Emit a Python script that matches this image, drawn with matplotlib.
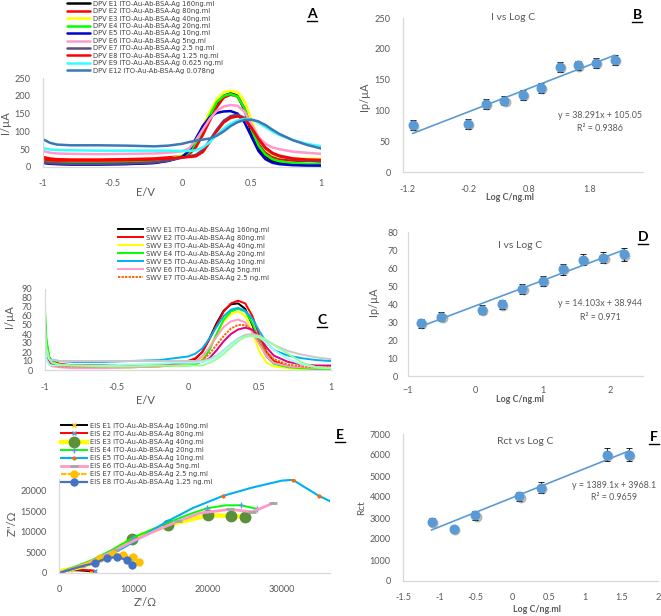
import matplotlib
matplotlib.use("Agg")
import matplotlib.pyplot as plt
from matplotlib.lines import Line2D
import matplotlib.transforms as mtransforms

plt.rcParams['font.family'] = ['Lato', 'DejaVu Sans']

W, H = 661, 616
fig = plt.figure(figsize=(W / 100, H / 100), dpi=100)

GRAY_AX = '#d9d9d9'
GRAY_TXT = '#595959'
LEG_TXT = '#404040'
FIT_BLUE = '#5b9bd5'

# ---------------- data ----------------
# Panel A : DPV
dpv_E = [-1.0, -0.95, -0.9, -0.8, -0.6, -0.4, -0.2, -0.1, 0.0, 0.05, 0.1, 0.15, 0.2,
         0.25, 0.3, 0.35, 0.4, 0.45, 0.5, 0.55, 0.6, 0.65, 0.7, 0.8, 0.9, 1.0]
dpv_labels = ["DPV E1 ITO-Au-Ab-BSA-Ag 160ng.ml", "DPV E2 ITO-Au-Ab-BSA-Ag 80ng.ml",
              "DPV E3 ITO-Au-Ab-BSA-Ag 40ng.ml", "DPV E4 ITO-Au-Ab-BSA-Ag 20ng.ml",
              "DPV E5 ITO-Au-Ab-BSA-Ag 10ng.ml", "DPV E6 ITO-Au-Ab-BSA-Ag 5ng.ml",
              "DPV E7 ITO-Au-Ab-BSA-Ag 2.5 ng.ml", "DPV E8 ITO-Au-Ab-BSA-Ag 1.25 ng.ml",
              "DPV E9 ITO-Au-Ab-BSA-Ag 0.625 ng.ml", "DPV E12 ITO-Au-Ab-BSA-Ag 0.078ng"]
dpv_E1 = [12, 10, 9, 8, 8, 9, 12, 18, 28, 38, 62, 100, 140, 178, 200, 207, 200, 160, 95, 52, 30, 18, 12, 7, 5, 4]
dpv_E2 = [28, 24, 22, 21, 21, 22, 24, 27, 30, 35, 55, 90, 130, 168, 195, 203, 198, 165, 108, 65, 40, 28, 22, 18, 17, 18]
dpv_E3 = [15, 13, 12, 12, 12, 13, 16, 22, 32, 45, 75, 115, 155, 190, 210, 214, 210, 185, 130, 80, 50, 35, 28, 24, 23, 23]
dpv_E4 = [17, 14, 13, 12, 12, 13, 16, 21, 30, 40, 68, 105, 145, 182, 200, 205, 198, 165, 105, 60, 35, 22, 16, 11, 9, 8]
dpv_E5 = [12, 9, 8, 7, 7, 8, 11, 17, 28, 45, 80, 115, 140, 152, 156, 157, 150, 125, 85, 45, 22, 12, 8, 5, 4, 4]
dpv_E6 = [45, 40, 38, 37, 36, 37, 38, 40, 44, 52, 75, 105, 135, 158, 170, 174, 172, 155, 120, 85, 65, 55, 50, 43, 40, 37]
dpv_E7 = [14, 11, 10, 9, 9, 10, 13, 18, 26, 30, 34, 48, 75, 105, 130, 143, 147, 138, 110, 78, 52, 38, 30, 22, 18, 15]
dpv_E8 = [22, 19, 18, 18, 18, 19, 21, 24, 27, 28, 30, 42, 70, 100, 125, 138, 142, 135, 110, 80, 55, 40, 32, 24, 21, 20]
dpv_E9 = [53, 49, 48, 47, 46, 46, 46, 46, 45, 45, 47, 55, 70, 90, 108, 122, 131, 135, 133, 125, 112, 100, 90, 75, 65, 58]
dpv_E12 = [78, 68, 63, 61, 61, 60, 58, 60, 65, 70, 74, 77, 80, 88, 100, 115, 126, 132, 133, 128, 118, 105, 93, 75, 62, 52]
dpv_colors = ['#000000', '#ff0000', '#ffff00', '#00ff00', '#0000cc', '#ff99cc',
              '#604a7b', '#ff0000', '#33ffff', '#3b78b5']

# Panel C : SWV
swv_E = [-1.0, -0.99, -0.97, -0.95, -0.9, -0.8, -0.6, -0.4, -0.2, -0.1, 0.0, 0.05, 0.1, 0.15,
         0.2, 0.25, 0.3, 0.35, 0.4, 0.45, 0.5, 0.55, 0.6, 0.7, 0.8, 0.9, 1.0]
swv_labels = ["SWV E1 ITO-Au-Ab-BSA-Ag 160ng.ml", "SWV E2 ITO-Au-Ab-BSA-Ag 80ng.ml",
              "SWV E3 ITO-Au-Ab-BSA-Ag 40ng.ml", "SWV E4 ITO-Au-Ab-BSA-Ag 20ng.ml",
              "SWV E5 ITO-Au-Ab-BSA-Ag 10ng.ml", "SWV E6 ITO-Au-Ab-BSA-Ag 5ng.ml",
              "SWV E7 ITO-Au-Ab-BSA-Ag 2.5 ng.ml"]
swv_E1 = [40, 22, 10, 8, 6, 5, 5, 5, 6, 7, 9, 12, 20, 35, 52, 66, 73, 74, 68, 50, 30, 15, 8, 3, 2, 1, 1]
swv_E2 = [53, 30, 14, 10, 7, 5, 4, 4, 5, 7, 10, 13, 20, 34, 50, 65, 74, 77, 74, 60, 38, 20, 10, 4, 2, 2, 2]
swv_E3 = [40, 22, 10, 7, 5, 4, 3, 3, 4, 5, 7, 9, 14, 25, 40, 54, 62, 65, 60, 42, 20, 8, 4, 2, 1, 1, 1]
swv_E4 = [67, 35, 14, 9, 6, 4, 3, 3, 4, 5, 5, 6, 10, 22, 40, 56, 65, 68, 65, 52, 32, 15, 7, 3, 2, 1, 1]
swv_E5 = [40, 20, 13, 11, 10, 9, 9, 10, 11, 13, 15, 18, 24, 35, 48, 60, 67, 69, 66, 57, 43, 30, 22, 16, 13, 11, 10]
swv_E6 = [30, 15, 6, 4, 3, 2, 2, 3, 4, 6, 8, 10, 15, 25, 37, 48, 54, 56, 53, 42, 28, 15, 8, 4, 3, 2, 2]
swv_E7 = [35, 15, 7, 5, 4, 4, 4, 4, 5, 7, 8, 9, 11, 18, 28, 38, 46, 50, 50, 44, 32, 20, 12, 6, 4, 3, 3]
swv_X1 = [45, 20, 8, 6, 5, 5, 5, 5, 6, 7, 8, 8, 9, 13, 22, 32, 40, 45, 47, 45, 36, 25, 16, 9, 6, 5, 5]
swv_X2 = [35, 18, 12, 11, 10, 10, 10, 10, 10, 10, 10, 10, 10, 12, 16, 22, 29, 35, 39, 40, 38, 33, 28, 21, 17, 14, 12]
swv_X3 = [30, 12, 6, 5, 5, 5, 5, 6, 7, 8, 8, 8, 9, 11, 15, 21, 28, 34, 37, 38, 36, 30, 22, 12, 6, 3, 2]
swv_X4 = [50, 25, 12, 8, 6, 5, 4, 4, 5, 5, 5, 5, 5, 8, 12, 18, 25, 32, 37, 38, 37, 33, 28, 18, 8, 3, 2]
swv_colors = ['#000000', '#ff0000', '#ffff00', '#00ff00', '#00b0f0', '#ff99cc', '#ff6600']
swv_extra_colors = ['#e6007e', '#c8c8c8', '#99ffee', '#99ff99']

# Panel E : EIS (Z', Z'')
eis_labels = ["EIS E1 ITO-Au-Ab-BSA-Ag 160ng.ml", "EIS E2 ITO-Au-Ab-BSA-Ag 80ng.ml",
              "EIS E3 ITO-Au-Ab-BSA-Ag 40ng.ml", "EIS E4 ITO-Au-Ab-BSA-Ag 20ng.ml",
              "EIS E5 ITO-Au-Ab-BSA-Ag 10ng.ml", "EIS E6 ITO-Au-Ab-BSA-Ag 5ng.ml",
              "EIS E7 ITO-Au-Ab-BSA-Ag 2.5 ng.ml", "EIS E8 ITO-Au-Ab-BSA-Ag 1.25 ng.ml"]
eis_E1_x = [0, 300, 800, 1500, 2500, 3500, 4300, 4600]
eis_E1_y = [0, 400, 600, 700, 650, 550, 400, 200]
eis_E2_x = [0, 500, 1200, 2200, 3300, 4300, 4800, 4900]
eis_E2_y = [0, 500, 700, 800, 750, 650, 500, 300]
eis_E3_x = [0, 500, 1500, 3000, 4500, 7000, 9800, 14700, 20100, 23200, 25000]
eis_E3_y = [0, 600, 900, 1500, 2500, 5000, 8300, 11700, 14100, 13900, 13700]
eis_E4_x = [0, 1000, 2500, 4500, 7000, 10000, 14000, 18000, 20000, 22500, 24500, 26700]
eis_E4_y = [0, 800, 1800, 3200, 5500, 8600, 11800, 14600, 15800, 16500, 16500, 15600]
eis_E5_x = [0, 1500, 4000, 7000, 10000, 14500, 18000, 22100, 26000, 30000, 31500, 33000, 35000, 36500]
eis_E5_y = [0, 800, 2300, 4500, 7500, 12500, 15800, 18800, 20800, 22500, 22700, 21000, 18800, 17500]
eis_E6_x = [0, 1200, 3000, 5000, 7500, 10000, 13000, 16000, 19000, 23000, 26000, 27500, 28800]
eis_E6_y = [0, 700, 1800, 3300, 5500, 7800, 10300, 12600, 14600, 15500, 14900, 16000, 17000]
eis_E7_x = [0, 1000, 2500, 4000, 5500, 7300, 8600, 10000, 10800]
eis_E7_y = [0, 600, 1500, 2600, 3700, 4600, 4400, 3900, 2700]
eis_E8_x = [0, 1500, 3000, 4800, 6400, 7800, 9100, 9800]
eis_E8_y = [0, 800, 1600, 2400, 3600, 3900, 3200, 2000]

# Panel B
b_logc = [-1.108, -0.204, 0.097, 0.398, 0.699, 1.0, 1.301, 1.602, 1.903, 2.204]
b_ip = [76, 78, 110, 116, 125, 137, 170, 173, 177, 182]
b_err = [8, 8, 8, 8, 8, 8, 8, 8, 8, 8]
b_slope, b_int = 38.291, 105.05
# Panel D
d_logc = [-0.806, -0.505, 0.097, 0.398, 0.699, 1.0, 1.301, 1.602, 1.903, 2.204]
d_ip = [29.4, 32.8, 36.9, 39.8, 48.5, 52.8, 59.3, 64.6, 65.7, 67.6]
d_err = [2.5, 2.5, 2.5, 2.5, 2.8, 3, 3, 3, 3, 3.5]
d_slope, d_int = 14.103, 38.944
# Panel F
f_logc = [-1.108, -0.806, -0.505, 0.097, 0.398, 1.301, 1.602]
f_rct = [2830, 2470, 3120, 4030, 4450, 6010, 6010]
f_err = [150, 150, 200, 200, 250, 300, 300]
f_slope, f_int = 1389.1, 3968.1


# ---------------- helpers ----------------
def ax_px(left, top, right, bottom):
    return fig.add_axes([left / W, 1 - bottom / H, (right - left) / W, (bottom - top) / H])


def excel_style(ax, fs=6.6, pad=3):
    for s in ['top', 'right']:
        ax.spines[s].set_visible(False)
    for s in ['left', 'bottom']:
        ax.spines[s].set_color(GRAY_AX)
        ax.spines[s].set_linewidth(0.9)
    ax.tick_params(length=0, labelsize=fs, labelcolor=GRAY_TXT, pad=pad)
    ax.set_facecolor('none')


def ftext(x, y, s, **kw):
    fig.text(x / W, 1 - y / H, s, **kw)


def letter(x, y, s):
    ftext(x, y, s, fontsize=10, fontweight='bold', ha='center', va='center', color='#000000')
    fig.add_artist(Line2D([(x - 5) / W, (x + 5) / W], [1 - (y + 7) / H, 1 - (y + 7) / H],
                          color='#000000', lw=1.0, transform=fig.transFigure))


def fig_legend(ax, handles, labels, x, y, fs=4.9, hl=3.4, ls=0.21):
    ax.legend(handles, labels, loc='upper left', bbox_to_anchor=(x / W, 1 - y / H),
              bbox_transform=fig.transFigure, frameon=False,
              prop={'family': 'DejaVu Sans', 'size': fs},
              handlelength=hl, handletextpad=0.44, labelspacing=ls, borderpad=0,
              borderaxespad=0, labelcolor=LEG_TXT, numpoints=1)


def scatter_fit(ax, xs, ys, errs, slope, inter):
    shadow = mtransforms.offset_copy(ax.transData, fig=fig, x=1.2, y=-1.2, units='dots')
    ax.plot(xs, ys, 'o', ms=6.2, color='#9a9a9a', alpha=0.6, transform=shadow, zorder=2)
    ax.errorbar(xs, ys, yerr=errs, fmt='none', ecolor='#000000', elinewidth=0.6,
                capsize=2, capthick=0.6, zorder=3)
    ax.plot(xs, ys, 'o', ms=6.2, color=FIT_BLUE, zorder=4)
    x0, x1 = min(xs), max(xs)
    ax.plot([x0, x1], [slope * x0 + inter, slope * x1 + inter], color=FIT_BLUE, lw=1.2, zorder=3)


# ---------------- Panel A ----------------
axA = ax_px(43, 78, 321, 167)
excel_style(axA, fs=6.6, pad=9)
dpv_series = [dpv_E1, dpv_E2, dpv_E3, dpv_E4, dpv_E5, dpv_E6, dpv_E7, dpv_E8, dpv_E9, dpv_E12]
handlesA = []
for yv, c in zip(dpv_series, dpv_colors):
    h, = axA.plot(dpv_E, yv, color=c, lw=1.8, solid_capstyle='round')
    handlesA.append(h)
axA.set_xlim(-1, 1)
axA.set_ylim(0, 250)
axA.set_xticks([-1, -0.5, 0, 0.5, 1])
axA.set_xticklabels(['-1', '-0.5', '0', '0.5', '1'])
axA.set_yticks([0, 50, 100, 150, 200, 250])
fig_legend(axA, handlesA, dpv_labels, 67, 0.75, hl=3.4, ls=0.21)
ftext(145, 193, 'E/V', fontsize=8, color=GRAY_TXT, ha='center', va='center')
ftext(6, 123, 'I/µA', fontsize=8, color=GRAY_TXT, ha='center', va='center', rotation=90)
letter(312, 14, 'A')

# ---------------- Panel B ----------------
axB = ax_px(403, 18, 643, 172)
excel_style(axB, fs=6.6, pad=9)
scatter_fit(axB, b_logc, b_ip, b_err, b_slope, b_int)
axB.set_xlim(-1.266, 2.67)
axB.set_ylim(0, 250)
axB.set_xticks([-1.2, -0.2, 0.8, 1.8])
axB.set_xticklabels(['-1.2', '-0.2', '0.8', '1.8'])
axB.set_yticks([0, 50, 100, 150, 200, 250])
ftext(513, 18, 'I vs Log C', fontsize=7.5, color=GRAY_TXT, ha='center', va='center')
ftext(600, 116, 'y = 38.291x + 105.05', fontsize=6.4, color=GRAY_TXT, ha='center', va='center')
ftext(600, 128, 'R² = 0.9386', fontsize=6.4, color=GRAY_TXT, ha='center', va='center')
ftext(510, 197, 'Log C/ng.ml', fontsize=6.4, color=GRAY_TXT, fontweight='bold', ha='center', va='center')
ftext(365, 97, 'Ip/µA', fontsize=7.8, color=GRAY_TXT, ha='center', va='center', rotation=90)
letter(637, 15, 'B')

# ---------------- Panel C ----------------
axC = ax_px(45, 289, 331, 370)
excel_style(axC, fs=6.6, pad=9)
swv_series = [swv_E1, swv_E2, swv_E3, swv_E4, swv_E5, swv_E6]
handlesC = []
for yv, c in zip(swv_series, swv_colors[:6]):
    h, = axC.plot(swv_E, yv, color=c, lw=1.4)
    handlesC.append(h)
h7, = axC.plot(swv_E, swv_E7, color=swv_colors[6], lw=1.4, ls=(0, (1.2, 0.6)))
handlesC.append(h7)
for yv, c in zip([swv_X1, swv_X2, swv_X3, swv_X4], swv_extra_colors):
    axC.plot(swv_E, yv, color=c, lw=1.4)
axC.set_xlim(-1, 1)
axC.set_ylim(0, 90)
axC.set_xticks([-1, -0.5, 0, 0.5, 1])
axC.set_xticklabels(['-1', '-0.5', '0', '0.5', '1'])
axC.set_yticks(list(range(0, 91, 10)))
fig_legend(axC, handlesC, swv_labels, 118, 226.7, hl=3.7, ls=0.29)
ftext(145, 400, 'E/V', fontsize=8, color=GRAY_TXT, ha='center', va='center')
ftext(10, 317, 'I/µA', fontsize=8, color=GRAY_TXT, ha='center', va='center', rotation=90)
letter(322, 320, 'C')

# ---------------- Panel D ----------------
axD = ax_px(408, 232, 643, 376)
excel_style(axD, fs=6.6, pad=7)
scatter_fit(axD, d_logc, d_ip, d_err, d_slope, d_int)
axD.set_xlim(-1, 2.49)
axD.set_ylim(0, 80)
axD.set_xticks([-1, 0, 1, 2])
axD.set_yticks(list(range(0, 81, 10)))
ftext(520, 245, 'I vs Log C', fontsize=7.5, color=GRAY_TXT, ha='center', va='center')
ftext(600, 304, 'y = 14.103x + 38.944', fontsize=6.4, color=GRAY_TXT, ha='center', va='center')
ftext(600, 318, 'R² = 0.971', fontsize=6.4, color=GRAY_TXT, ha='center', va='center')
ftext(520, 400, 'Log C/ng.ml', fontsize=6.4, color=GRAY_TXT, fontweight='bold', ha='center', va='center')
ftext(373, 302, 'Ip/µA', fontsize=7.8, color=GRAY_TXT, ha='center', va='center', rotation=90)
letter(643, 237, 'D')

# ---------------- Panel E ----------------
axE = ax_px(59, 479, 330, 573)
excel_style(axE, fs=6.6, pad=9)
hE1, = axE.plot(eis_E1_x, eis_E1_y, color='#000000', lw=1.4, marker='x', ms=3,
                mec='#ffc000', markevery=[3, 6])
hE2, = axE.plot(eis_E2_x, eis_E2_y, color='#ff0000', lw=1.4, marker='x', ms=3,
                mec='#5b9bd5', markevery=[6])
hE3, = axE.plot(eis_E3_x, eis_E3_y, color='#ffff00', lw=3.2, marker='o', ms=7.5,
                mfc='#5b8f3a', mec='#5b8f3a', markevery=[6, 7, 8, 9, 10])
hE4, = axE.plot(eis_E4_x, eis_E4_y, color='#00ff00', lw=1.4, marker='+', ms=5,
                mec='#5b9bd5', markevery=[5, 8, 10, 11])
hE5, = axE.plot(eis_E5_x, eis_E5_y, color='#00b0f0', lw=1.5, marker='o', ms=2,
                mfc='#ff6600', mec='#ff6600', markevery=[3, 7, 10, 12])
hE6, = axE.plot(eis_E6_x, eis_E6_y, color='#ff99cc', lw=2.0, marker='_', ms=6,
                mec='#a6a6a6', mew=2, markevery=[2, 4, 7, 9, 10, 12])
hE7, = axE.plot(eis_E7_x, eis_E7_y, color='#ffc000', lw=1.6, ls=(0, (2.5, 0.5)), marker='o', ms=5,
                markevery=[4, 5, 6, 7, 8])
hE8, = axE.plot(eis_E8_x, eis_E8_y, color='#4472c4', lw=1.6, marker='o', ms=5,
                markevery=[3, 4, 5, 6, 7])
axE.set_xlim(0, 36500)
axE.set_ylim(0, 22900)
axE.set_xticks([0, 10000, 20000, 30000])
axE.set_yticks([0, 5000, 10000, 15000, 20000])
fig_legend(axE, [hE1, hE2, hE3, hE4, hE5, hE6, hE7, hE8], eis_labels, 61, 422.7, hl=3.8, ls=0.31)
ftext(145, 602, "Z'/Ω", fontsize=8, color=GRAY_TXT, ha='center', va='center')
ftext(12, 523, "Z''/Ω", fontsize=8, color=GRAY_TXT, ha='center', va='center', rotation=90)
letter(340, 435, 'E')

# ---------------- Panel F ----------------
axF = ax_px(403, 434, 658, 581)
excel_style(axF, fs=6.6, pad=9)
scatter_fit(axF, f_logc, f_rct, f_err, f_slope, f_int)
axF.set_xlim(-1.5, 2)
axF.set_ylim(0, 7000)
axF.set_xticks([-1.5, -1, -0.5, 0, 0.5, 1, 1.5, 2])
axF.set_xticklabels(['-1.5', '-1', '-0.5', '0', '0.5', '1', '1.5', '2'])
axF.set_yticks(list(range(0, 7001, 1000)))
ftext(525, 442, 'Rct vs Log C', fontsize=7.5, color=GRAY_TXT, ha='center', va='center')
ftext(614, 485, 'y = 1389.1x + 3968.1', fontsize=6.4, color=GRAY_TXT, ha='center', va='center')
ftext(614, 497, 'R² = 0.9659', fontsize=6.4, color=GRAY_TXT, ha='center', va='center')
ftext(537, 609, 'Log C/ng.ml', fontsize=6.4, color=GRAY_TXT, fontweight='bold', ha='center', va='center')
ftext(362, 508, 'Rct', fontsize=7.2, color=GRAY_TXT, ha='center', va='center', rotation=90)
letter(654, 437, 'F')

fig.savefig('out.png', dpi=100)
